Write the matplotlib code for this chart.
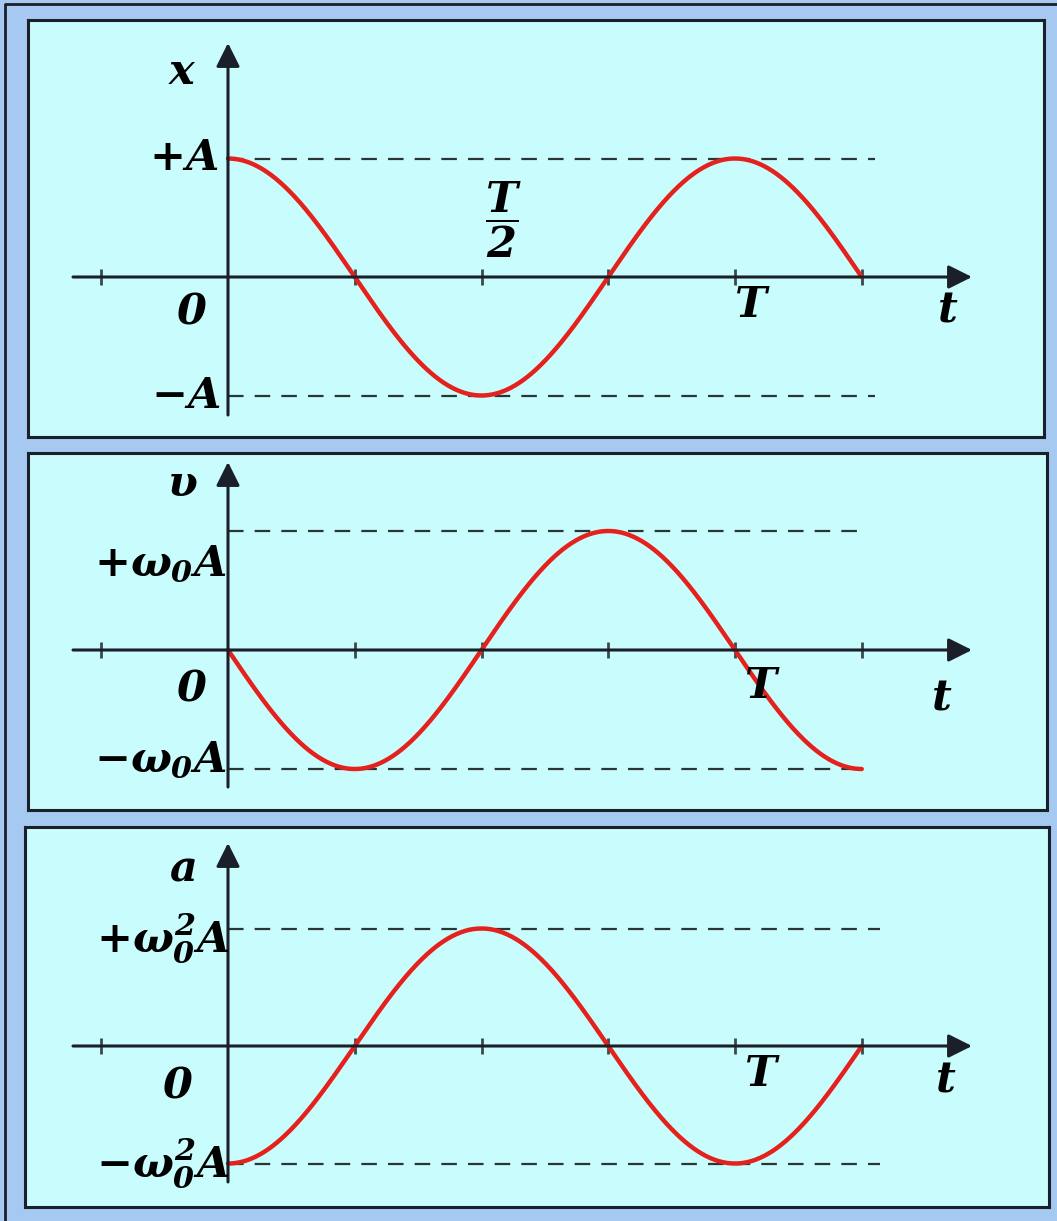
import numpy as np
import matplotlib
matplotlib.use('Agg')
from matplotlib import pyplot as plt
from matplotlib.lines import Line2D


# Setting
plt.rcParams['mathtext.fontset'] = 'custom'
plt.rcParams['mathtext.rm'] = 'DejaVu Serif:italic:bold'
plt.rcParams['mathtext.it'] = 'DejaVu Serif:italic:bold'
plt.rcParams['mathtext.bf'] = 'DejaVu Serif:italic:bold'

W, H = 1057, 1221
BLUE = '#a6c9f1'
CYAN = '#c9fcfc'
DARK = '#1b1f2a'
RED = '#e4211c'

# Variable
# time in units of the period T, curves in units of their amplitude
t_ticks = [-0.25, 0.25, 0.5, 0.75, 1.0, 1.25]
t_end = 1.25
quantity_names = ['x', r'\upsilon', 'a']
amp_labels = [(r'$+A$', r'$-A$'),
              (r'$+\omega_0A$', r'$-\omega_0A$'),
              (r'$+\omega_0^2A$', r'$-\omega_0^2A$')]
phase_shift = [0.0, 0.25, 0.5]   # x = cos, v = -sin, a = -cos
dash_end = [1.276, 1.256, 1.286]

# panel boxes in pixels: left, top, right, bottom ; origin row ; px per amplitude
panels = [
    dict(box=(28, 20, 1044, 437), y0=277, sy=118.5, top=43, bottom=415),
    dict(box=(28, 453, 1047, 810), y0=650, sy=119.0, top=462, bottom=787),
    dict(box=(25, 827, 1049, 1207), y0=1046, sy=117.5, top=843, bottom=1182),
]
X0, SX = 228, 507.0   # pixel of t=0, pixels per T
X_LEFT, X_TIP = 73, 972


def px_t(px):
    return (px - X0) / SX


# Function
def curve(shift, t):
    return np.cos(2 * np.pi * (t + shift))


fig = plt.figure(figsize=(W / 100, H / 100), dpi=100, facecolor=BLUE)
# dark frame on top and left only
fig.lines.append(Line2D([5 / W, 5 / W, 1], [0, 1 - 4 / H, 1 - 4 / H],
                        transform=fig.transFigure, color=DARK, lw=2))

t = np.linspace(0, t_end, 600)
fs = 31
for i, p in enumerate(panels):
    l, tp, r, b = p['box']
    ax = fig.add_axes([l / W, 1 - b / H, (r - l) / W, (b - tp) / H])
    ax.set_facecolor(CYAN)
    for s in ax.spines.values():
        s.set_color(DARK)
        s.set_linewidth(2.2)
    ax.set_xticks([])
    ax.set_yticks([])
    ax.set_xlim(px_t(l), px_t(r))
    y0, sy = p['y0'], p['sy']
    ax.set_ylim(-(b - y0) / sy, (y0 - tp) / sy)

    # axes with arrows
    ax.annotate('', xy=(px_t(X_TIP), 0), xytext=(px_t(X_LEFT), 0),
                arrowprops=dict(arrowstyle='-|>', color=DARK, lw=2.2,
                                mutation_scale=36, shrinkA=0, shrinkB=0))
    ax.annotate('', xy=(0, (y0 - p['top']) / sy), xytext=(0, -(p['bottom'] - y0) / sy),
                arrowprops=dict(arrowstyle='-|>', color=DARK, lw=2.2,
                                mutation_scale=36, shrinkA=0, shrinkB=0))
    ax.plot(t_ticks, np.zeros(len(t_ticks)), linestyle='none', marker='|',
            markersize=11, markeredgewidth=2, color='#3a4a4a')

    # amplitude guides
    for lev in (1, -1):
        ax.plot([0, dash_end[i]], [lev, lev], color='#2a3535', lw=1.6,
                dashes=(7, 5))

    ax.plot(t, curve(phase_shift[i], t), color=RED, lw=3.2, solid_capstyle='round')

    ax.text(px_t(182), (y0 - [72, 484, 868][i]) / sy, '$' + quantity_names[i] + '$',
            fontsize=fs, ha='center', va='center')
    ax.text(px_t([218, 226, 230][i]), 1 - [0, 32, 10][i] / sy, amp_labels[i][0],
            fontsize=fs, ha='right', va='center')
    ax.text(px_t([220, 226, 230][i]), -1 + [0, 10, 0][i] / sy, amp_labels[i][1],
            fontsize=fs, ha='right', va='center')
    ax.text(px_t([192, 192, 178][i]), -[35, 38, 40][i] / sy, '$0$', fontsize=fs,
            ha='center', va='center')
    ax.text(px_t([752, 762, 762][i]), -[28, 36, 28][i] / sy, '$T$', fontsize=fs,
            ha='center', va='center')
    ax.text(px_t([948, 942, 946][i]), -[33, 47, 33][i] / sy, '$t$', fontsize=fs,
            ha='center', va='center')
    if i == 0:
        ax.text(px_t(503), (y0 - 220) / sy, r'$\dfrac{T}{2}$', fontsize=fs,
                ha='center', va='center')

fig.savefig('out.png', dpi=100, facecolor=BLUE)
plt.close()
